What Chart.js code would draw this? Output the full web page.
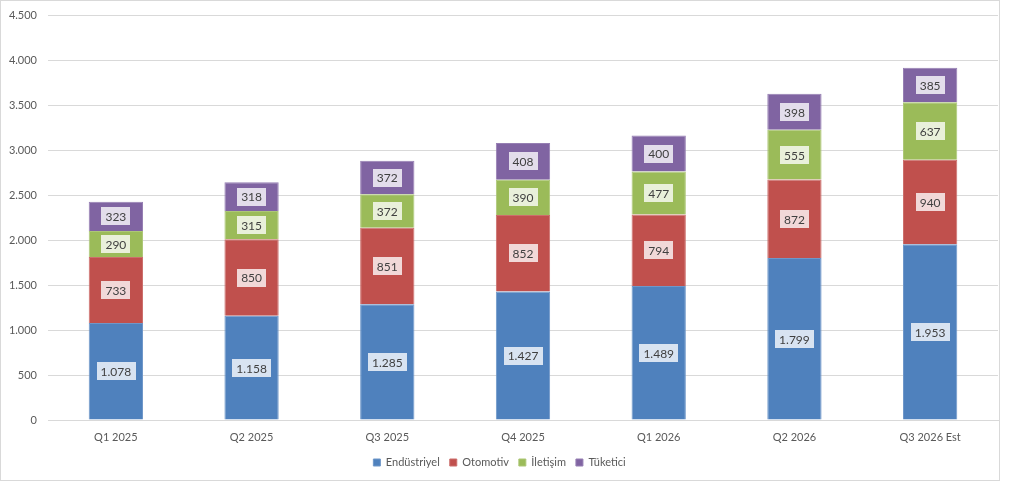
<!DOCTYPE html>
<html>
<head>
<meta charset="utf-8">
<script src="https://cdn.jsdelivr.net/npm/chart.js@4.4.1/dist/chart.umd.min.js"></script>
<style>
  html, body { margin: 0; padding: 0; background: #fff; }
  #wrap { position: absolute; left: 0; top: 0; width: 1000px; height: 481px;
          border: 1px solid #d9d9d9; box-sizing: border-box; }
</style>
</head>
<body>
<div id="wrap"><canvas id="chart"></canvas></div>
<script>
// ceyreklik gelir, segmentlere gore
var quarters = ["Q1 2025", "Q2 2025", "Q3 2025", "Q4 2025", "Q1 2026", "Q2 2026", "Q3 2026 Est"];
var endustriyel = [1078, 1158, 1285, 1427, 1489, 1799, 1953];
var otomotiv = [733, 850, 851, 852, 794, 872, 940];
var iletisim = [290, 315, 372, 390, 477, 555, 637];
var tuketici = [323, 318, 372, 408, 400, 398, 385];

function trNum(v) {
  // 1078 -> "1.078"
  return String(Math.round(v)).replace(/\B(?=(\d{3})+(?!\d))/g, ".");
}

// segment ortasina beyaz kutulu etiket
var boxLabels = {
  id: "boxLabels",
  afterDatasetsDraw: function (chart) {
    var ctx = chart.ctx;
    ctx.save();
    ctx.font = "12px Lato, 'Open Sans', sans-serif";
    ctx.textAlign = "center";
    ctx.textBaseline = "middle";
    chart.data.datasets.forEach(function (ds, i) {
      var meta = chart.getDatasetMeta(i);
      if (meta.hidden) return;
      meta.data.forEach(function (bar, j) {
        var txt = trNum(ds.data[j]);
        var cx = bar.x;
        var cy = (bar.y + bar.base) / 2;
        var w = ctx.measureText(txt).width + 8;
        var h = 18;
        ctx.fillStyle = "rgba(255,255,255,0.78)";
        ctx.fillRect(Math.round(cx - w / 2), Math.round(cy - h / 2), Math.round(w), h);
        ctx.fillStyle = "#404040";
        ctx.fillText(txt, cx, cy + 1);
      });
    });
    ctx.restore();
  }
};

var ctx = document.getElementById("chart");
var myBarChart = new Chart(ctx, {
  type: "bar",
  data: {
    labels: quarters,
    datasets: [
      { label: "Endüstriyel", data: endustriyel, backgroundColor: "#4F81BD", borderColor: "#6f97c9", borderWidth: 1 },
      { label: "Otomotiv", data: otomotiv, backgroundColor: "#C0504D", borderColor: "#cc6f6c", borderWidth: 1 },
      { label: "İletişim", data: iletisim, backgroundColor: "#9BBB59", borderColor: "#adc777", borderWidth: 1 },
      { label: "Tüketici", data: tuketici, backgroundColor: "#8064A2", borderColor: "#967fb3", borderWidth: 1 }
    ]
  },
  options: {
    responsive: true,
    maintainAspectRatio: false,
    animation: false,
    datasets: { bar: { categoryPercentage: 1, barPercentage: 0.4 } },
    layout: { padding: { top: 14, right: 1, bottom: 2, left: 0 } },
    scales: {
      x: {
        stacked: true,
        grid: { display: false },
        border: { color: "#d9d9d9" },
        ticks: { color: "#595959", font: { family: "Lato", size: 11 }, padding: 3 },
        afterFit: function (s) { s.height = 27; }
      },
      y: {
        stacked: true,
        min: 0, max: 4500,
        grid: { color: "#d9d9d9", drawTicks: false },
        border: { display: false },
        ticks: {
          stepSize: 500,
          color: "#595959",
          font: { family: "Lato", size: 11 },
          padding: 11,
          callback: function (v) { return trNum(v); }
        },
        afterFit: function (s) { s.width = 47; s.paddingTop = 0; s.paddingBottom = 0; }
      }
    },
    plugins: {
      legend: {
        position: "bottom",
        labels: {
          boxWidth: 7, boxHeight: 7,
          color: "#595959",
          font: { family: "Lato", size: 11 },
          padding: 10
        }
      },
      tooltip: { enabled: false }
    }
  },
  plugins: [boxLabels]
});
</script>
</body>
</html>
